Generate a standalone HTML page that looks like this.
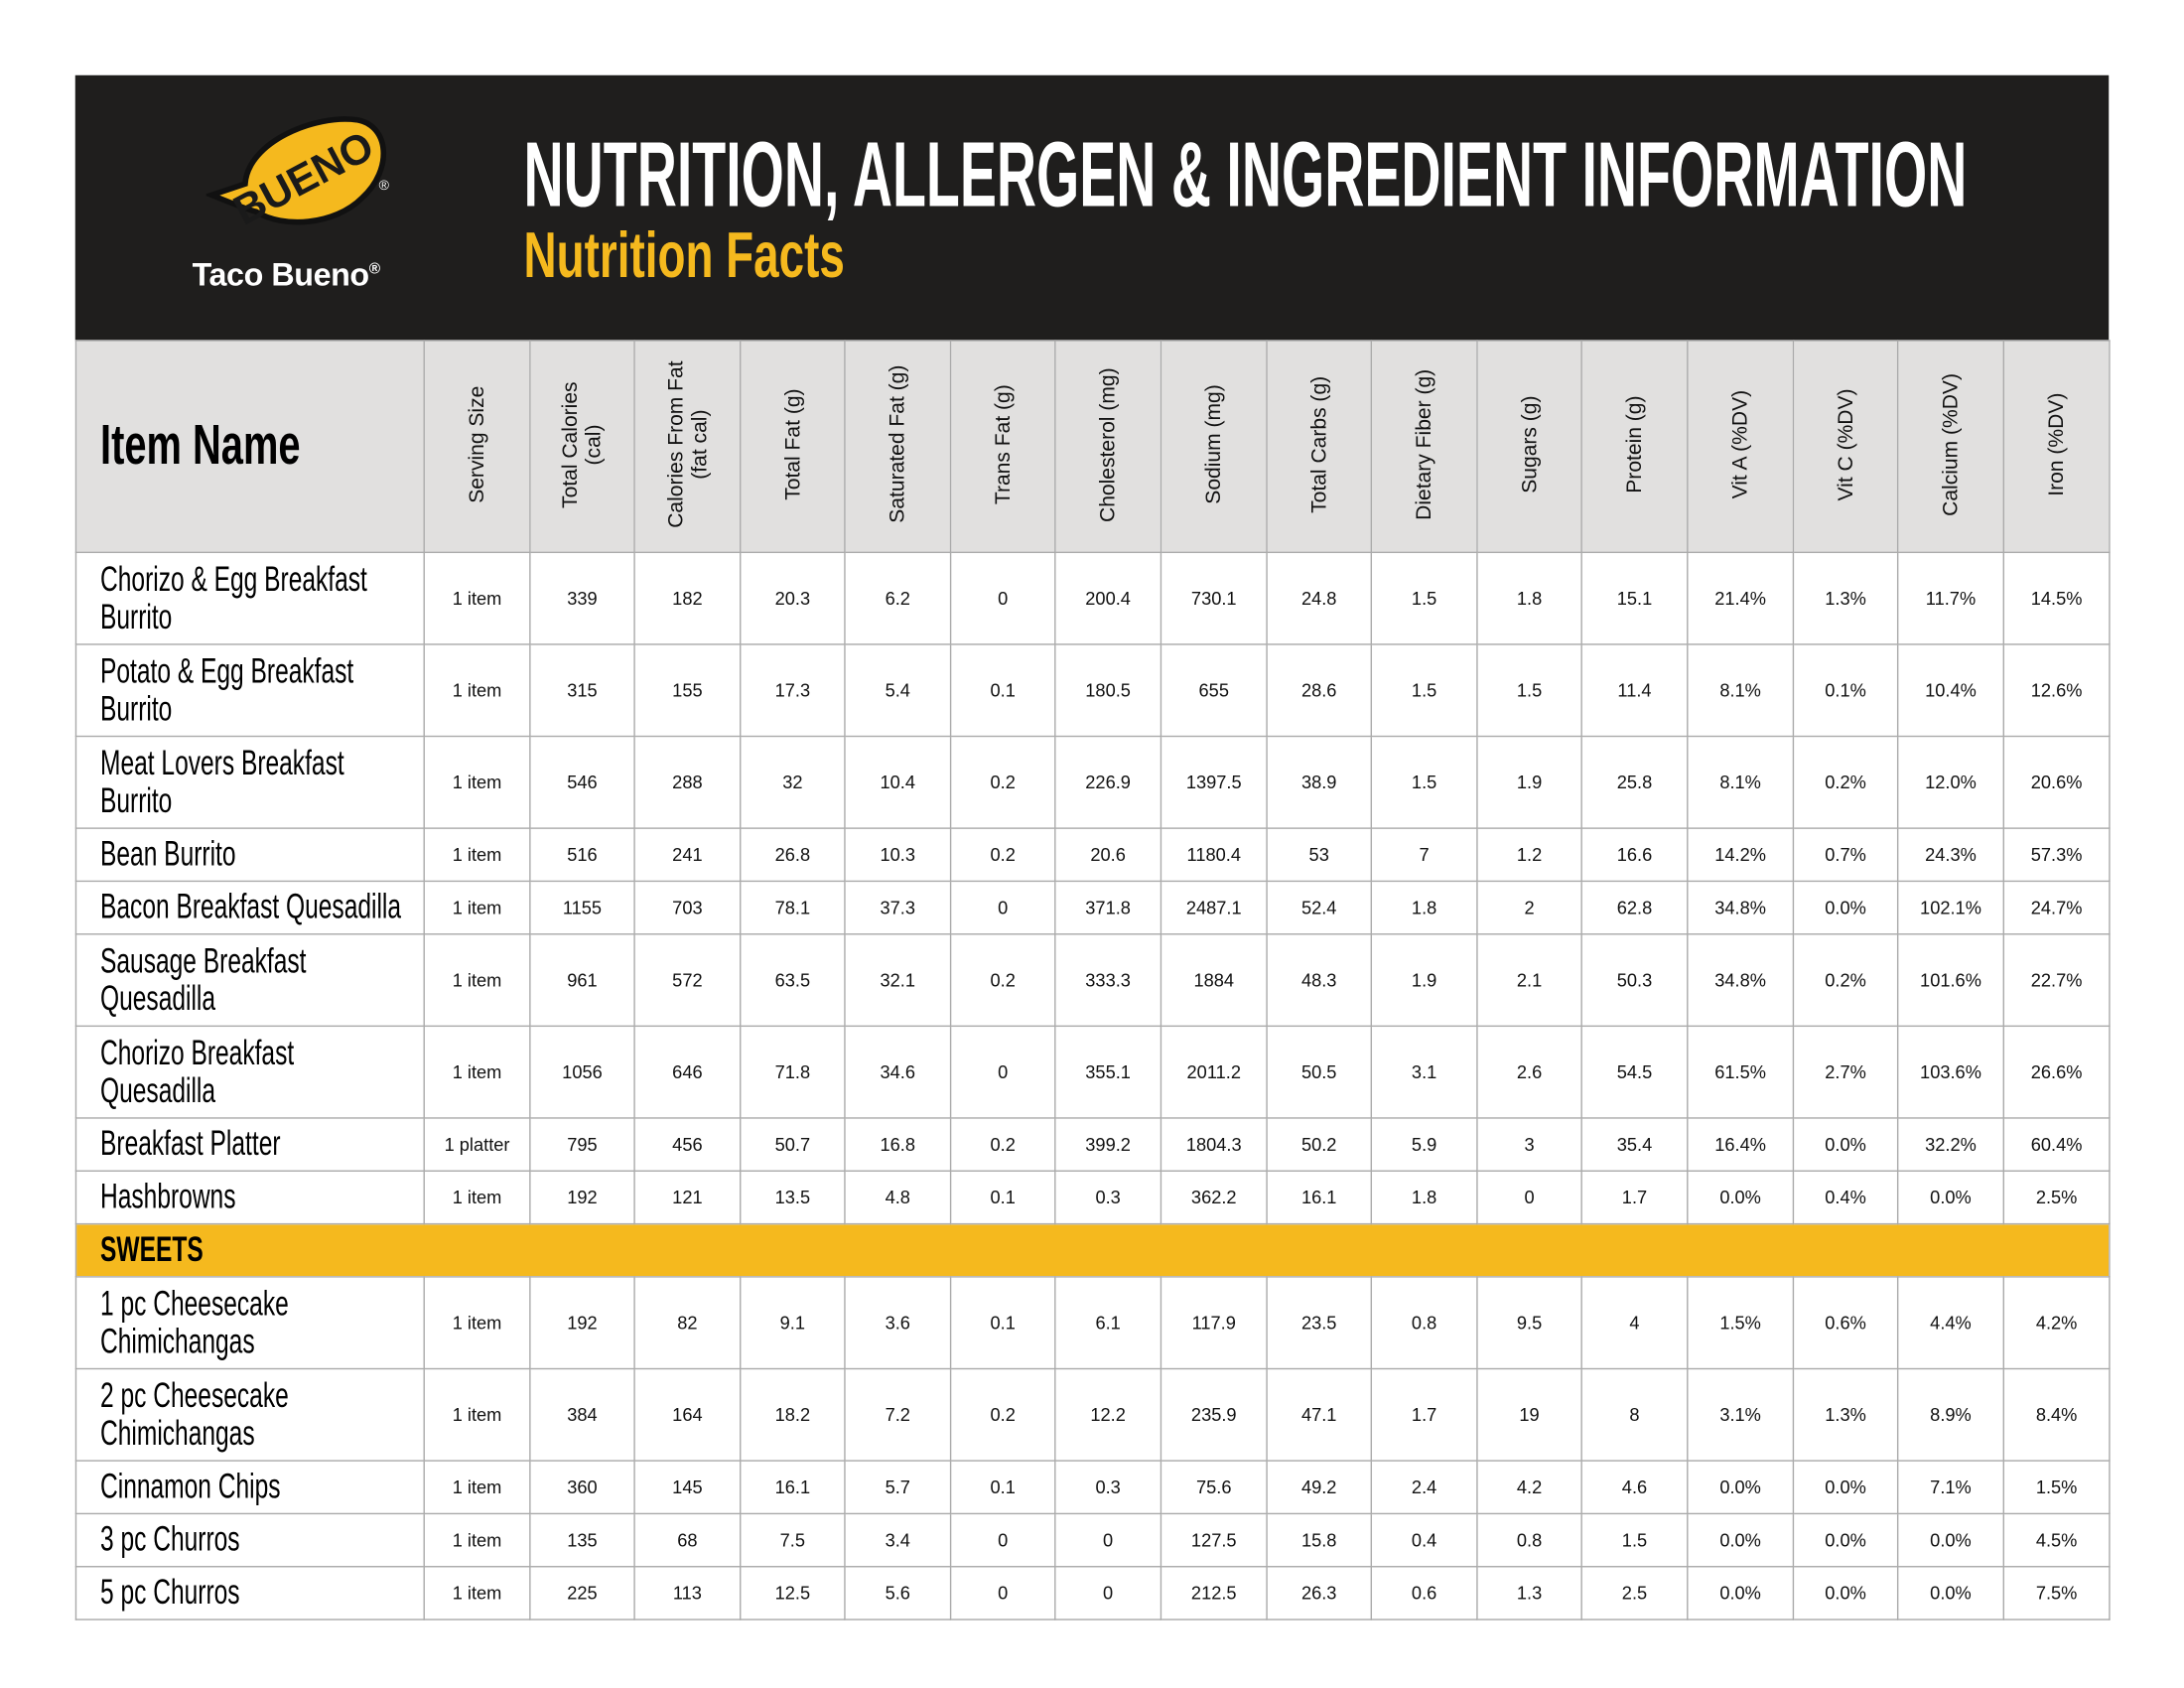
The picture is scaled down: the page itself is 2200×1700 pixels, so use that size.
<!DOCTYPE html>
<html><head><meta charset="utf-8"><style>
html,body{margin:0;padding:0;background:#fff;overflow:hidden}
#wrap{width:1568px;height:1212px;position:relative;transform:scale(1.40306);transform-origin:0 0;font-family:"Liberation Sans",sans-serif}
#hdr{position:absolute;left:54px;top:54px;width:1460px;height:190px;background:#1f1e1d}
.t1{position:absolute;left:376px;top:92px;font-family:"Liberation Sans Narrow","Liberation Sans",sans-serif;font-weight:bold;font-size:66px;line-height:66px;color:#fff;white-space:nowrap;transform:scaleX(0.60);transform-origin:0 0}
.t2{position:absolute;left:376px;top:160px;font-family:"Liberation Sans Narrow","Liberation Sans",sans-serif;font-weight:bold;font-size:46px;line-height:46px;color:#f5b91e;white-space:nowrap;transform:scaleX(0.71);transform-origin:0 0}
table{position:absolute;left:54px;top:244px;width:1460px;border-collapse:collapse;table-layout:fixed}
td,th{border:1.2px solid #aaa;padding:0;text-align:center;font-size:13px;color:#111;overflow:hidden}
th{background:#e1e0df;height:151px;font-weight:normal}
.v{writing-mode:vertical-rl;transform:rotate(180deg);display:inline-block;font-size:15px;line-height:17px;text-align:center}
.nm{text-align:left;padding-left:17px;font-family:"Liberation Sans Narrow","Liberation Sans",sans-serif;font-size:25px;line-height:27px;color:#000}
.nm span{display:inline-block;transform:scaleX(0.70);transform-origin:0 50%;white-space:nowrap}
th.nm{font-weight:bold;font-size:40px}
th.nm span{transform:scaleX(0.71)}
tr.s td{background:#f5b91e;font-weight:bold}
</style></head><body><div id="wrap">
<div id="hdr"></div>
<svg style="position:absolute;left:148px;top:80px" width="140" height="100" viewBox="0 0 140 100">
<path d="M4 60 L28 52 C30 22 78 2 108 6 C132 10 134 42 112 62 C92 82 55 84 36 72 C28 70 14 64 4 60 Z" fill="#f5b91e" stroke="#111" stroke-width="4"/>
<text x="70" y="58" text-anchor="middle" font-family="Liberation Sans Narrow,Liberation Sans,sans-serif" font-weight="bold" font-size="30" fill="#1a1a1a" transform="rotate(-28 70 48)">BUENO</text>
<text x="124" y="56" font-size="10" fill="#fff" font-family="Liberation Sans,sans-serif">®</text>
</svg>
<div style="position:absolute;left:138px;top:184px;color:#fff;font-weight:bold;font-size:23px;white-space:nowrap;letter-spacing:-0.3px">Taco Bueno<sup style="font-size:11px">®</sup></div>
<div class="t1">NUTRITION, ALLERGEN &amp; INGREDIENT INFORMATION</div>
<div class="t2">Nutrition Facts</div>
<table>
<colgroup><col style="width:250px"><col style="width:76px"><col style="width:75px"><col style="width:76px"><col style="width:75px"><col style="width:76px"><col style="width:75px"><col style="width:76px"><col style="width:76px"><col style="width:75px"><col style="width:76px"><col style="width:75px"><col style="width:76px"><col style="width:76px"><col style="width:75px"><col style="width:76px"><col style="width:76px"></colgroup>
<tr><th class="nm"><span>Item Name</span></th>
<th><span class="v">Serving Size</span></th><th><span class="v">Total Calories<br>(cal)</span></th><th><span class="v">Calories From Fat<br>(fat cal)</span></th><th><span class="v">Total Fat (g)</span></th><th><span class="v">Saturated Fat (g)</span></th><th><span class="v">Trans Fat (g)</span></th><th><span class="v">Cholesterol (mg)</span></th><th><span class="v">Sodium (mg)</span></th><th><span class="v">Total Carbs (g)</span></th><th><span class="v">Dietary Fiber (g)</span></th><th><span class="v">Sugars (g)</span></th><th><span class="v">Protein (g)</span></th><th><span class="v">Vit A (%DV)</span></th><th><span class="v">Vit C (%DV)</span></th><th><span class="v">Calcium (%DV)</span></th><th><span class="v">Iron (%DV)</span></th></tr>
<tr style="height:66px"><td class="nm"><span>Chorizo &amp; Egg Breakfast<br>Burrito</span></td><td>1 item</td><td>339</td><td>182</td><td>20.3</td><td>6.2</td><td>0</td><td>200.4</td><td>730.1</td><td>24.8</td><td>1.5</td><td>1.8</td><td>15.1</td><td>21.4%</td><td>1.3%</td><td>11.7%</td><td>14.5%</td></tr>
<tr style="height:66px"><td class="nm"><span>Potato &amp; Egg Breakfast<br>Burrito</span></td><td>1 item</td><td>315</td><td>155</td><td>17.3</td><td>5.4</td><td>0.1</td><td>180.5</td><td>655</td><td>28.6</td><td>1.5</td><td>1.5</td><td>11.4</td><td>8.1%</td><td>0.1%</td><td>10.4%</td><td>12.6%</td></tr>
<tr style="height:66px"><td class="nm"><span>Meat Lovers Breakfast<br>Burrito</span></td><td>1 item</td><td>546</td><td>288</td><td>32</td><td>10.4</td><td>0.2</td><td>226.9</td><td>1397.5</td><td>38.9</td><td>1.5</td><td>1.9</td><td>25.8</td><td>8.1%</td><td>0.2%</td><td>12.0%</td><td>20.6%</td></tr>
<tr style="height:38px"><td class="nm"><span>Bean Burrito</span></td><td>1 item</td><td>516</td><td>241</td><td>26.8</td><td>10.3</td><td>0.2</td><td>20.6</td><td>1180.4</td><td>53</td><td>7</td><td>1.2</td><td>16.6</td><td>14.2%</td><td>0.7%</td><td>24.3%</td><td>57.3%</td></tr>
<tr style="height:38px"><td class="nm"><span>Bacon Breakfast Quesadilla</span></td><td>1 item</td><td>1155</td><td>703</td><td>78.1</td><td>37.3</td><td>0</td><td>371.8</td><td>2487.1</td><td>52.4</td><td>1.8</td><td>2</td><td>62.8</td><td>34.8%</td><td>0.0%</td><td>102.1%</td><td>24.7%</td></tr>
<tr style="height:66px"><td class="nm"><span>Sausage Breakfast<br>Quesadilla</span></td><td>1 item</td><td>961</td><td>572</td><td>63.5</td><td>32.1</td><td>0.2</td><td>333.3</td><td>1884</td><td>48.3</td><td>1.9</td><td>2.1</td><td>50.3</td><td>34.8%</td><td>0.2%</td><td>101.6%</td><td>22.7%</td></tr>
<tr style="height:66px"><td class="nm"><span>Chorizo Breakfast<br>Quesadilla</span></td><td>1 item</td><td>1056</td><td>646</td><td>71.8</td><td>34.6</td><td>0</td><td>355.1</td><td>2011.2</td><td>50.5</td><td>3.1</td><td>2.6</td><td>54.5</td><td>61.5%</td><td>2.7%</td><td>103.6%</td><td>26.6%</td></tr>
<tr style="height:38px"><td class="nm"><span>Breakfast Platter</span></td><td>1 platter</td><td>795</td><td>456</td><td>50.7</td><td>16.8</td><td>0.2</td><td>399.2</td><td>1804.3</td><td>50.2</td><td>5.9</td><td>3</td><td>35.4</td><td>16.4%</td><td>0.0%</td><td>32.2%</td><td>60.4%</td></tr>
<tr style="height:38px"><td class="nm"><span>Hashbrowns</span></td><td>1 item</td><td>192</td><td>121</td><td>13.5</td><td>4.8</td><td>0.1</td><td>0.3</td><td>362.2</td><td>16.1</td><td>1.8</td><td>0</td><td>1.7</td><td>0.0%</td><td>0.4%</td><td>0.0%</td><td>2.5%</td></tr>
<tr class="s" style="height:38px"><td class="nm" colspan="17"><span style="font-weight:bold">SWEETS</span></td></tr>
<tr style="height:66px"><td class="nm"><span>1 pc Cheesecake<br>Chimichangas</span></td><td>1 item</td><td>192</td><td>82</td><td>9.1</td><td>3.6</td><td>0.1</td><td>6.1</td><td>117.9</td><td>23.5</td><td>0.8</td><td>9.5</td><td>4</td><td>1.5%</td><td>0.6%</td><td>4.4%</td><td>4.2%</td></tr>
<tr style="height:66px"><td class="nm"><span>2 pc Cheesecake<br>Chimichangas</span></td><td>1 item</td><td>384</td><td>164</td><td>18.2</td><td>7.2</td><td>0.2</td><td>12.2</td><td>235.9</td><td>47.1</td><td>1.7</td><td>19</td><td>8</td><td>3.1%</td><td>1.3%</td><td>8.9%</td><td>8.4%</td></tr>
<tr style="height:38px"><td class="nm"><span>Cinnamon Chips</span></td><td>1 item</td><td>360</td><td>145</td><td>16.1</td><td>5.7</td><td>0.1</td><td>0.3</td><td>75.6</td><td>49.2</td><td>2.4</td><td>4.2</td><td>4.6</td><td>0.0%</td><td>0.0%</td><td>7.1%</td><td>1.5%</td></tr>
<tr style="height:38px"><td class="nm"><span>3 pc Churros</span></td><td>1 item</td><td>135</td><td>68</td><td>7.5</td><td>3.4</td><td>0</td><td>0</td><td>127.5</td><td>15.8</td><td>0.4</td><td>0.8</td><td>1.5</td><td>0.0%</td><td>0.0%</td><td>0.0%</td><td>4.5%</td></tr>
<tr style="height:38px"><td class="nm"><span>5 pc Churros</span></td><td>1 item</td><td>225</td><td>113</td><td>12.5</td><td>5.6</td><td>0</td><td>0</td><td>212.5</td><td>26.3</td><td>0.6</td><td>1.3</td><td>2.5</td><td>0.0%</td><td>0.0%</td><td>0.0%</td><td>7.5%</td></tr>
</table>
</div></body></html>
